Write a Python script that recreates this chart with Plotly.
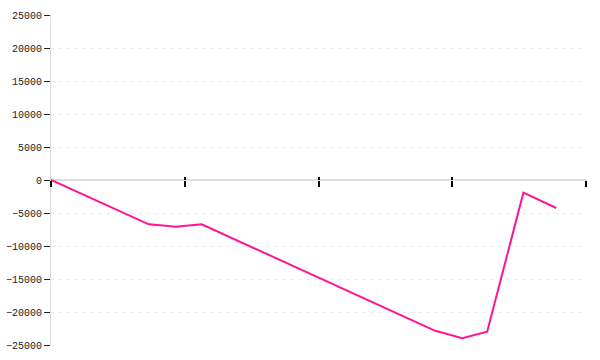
import plotly.graph_objects as go

x_vals = [0.0, 0.731, 0.836, 0.933, 1.03, 1.127, 2.873, 3.075, 3.261, 3.532, 3.778]
y_vals = [0, -6712, -6894, -7076, -6909, -6712, -22848, -23985, -23000, -1924, -4242]

x_ticks = [0, 1, 2, 3, 4]
y_ticks = [-25000, -20000, -15000, -10000, -5000, 0, 5000, 10000, 15000, 20000, 25000]

fig = go.Figure()
fig.add_trace(go.Scatter(x=x_vals, y=y_vals, mode="lines",
                         line=dict(color="#ff1493", width=2), showlegend=False))
# invisible trace for secondary axis (inner tick half)
fig.add_trace(go.Scatter(x=[x_ticks[0], x_ticks[-1]], y=[0, 0], xaxis="x2", mode="lines",
                         line=dict(width=0), hoverinfo="skip", showlegend=False))

fig.update_layout(
    width=600, height=360,
    margin=dict(l=51, r=14, t=15, b=15, autoexpand=False),
    paper_bgcolor="white", plot_bgcolor="white",
    font=dict(family="Liberation Mono", size=10, color="#222"),
    xaxis=dict(range=[0, 4], tickvals=x_ticks, showticklabels=False,
               ticks="outside", ticklen=6, tickwidth=1.5, tickcolor="#000",
               showgrid=False, zeroline=False, showline=False,
               anchor="free", position=0.5, automargin=False),
    xaxis2=dict(range=[0, 4], tickvals=x_ticks, showticklabels=False,
                ticks="inside", ticklen=3, tickwidth=1.5, tickcolor="#000",
                showgrid=False, zeroline=False, showline=False,
                overlaying="x", anchor="free", position=0.5, automargin=False),
    yaxis=dict(range=[-25000, 25000], tickvals=y_ticks,
               ticktext=[f"{v}".replace("-", "\u2212") for v in y_ticks],
               ticks="outside", ticklen=6, tickcolor="#222", tickwidth=1,
               showgrid=True, gridcolor="#e8e8e8", griddash="3px,5px", gridwidth=1,
               zeroline=True, zerolinecolor="#ddd", zerolinewidth=1.5,
               showline=True, linecolor="#ddd", linewidth=1, automargin=False),
)

fig.write_html("out.html")
